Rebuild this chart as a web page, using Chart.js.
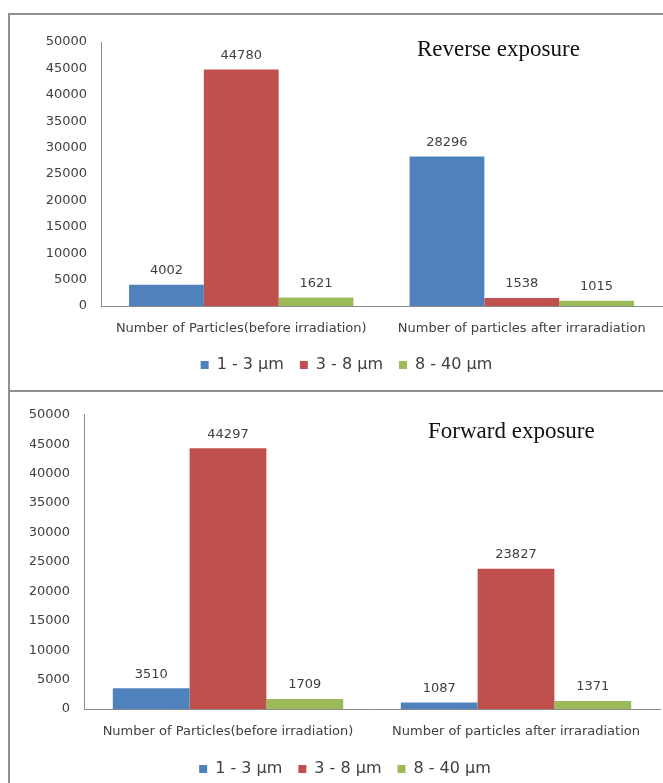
<!DOCTYPE html>
<html>
<head>
<meta charset="utf-8">
<script src="https://cdn.jsdelivr.net/npm/chart.js@4.4.1/dist/chart.umd.min.js"></script>
<style>
    html, body { margin: 0; padding: 0; background: #fff; overflow: hidden; }
    body { width: 663px; height: 783px; position: relative; }
    .frame { position: absolute; border-left: 2px solid #8f8f8f; border-top: 2px solid #8f8f8f; }
    #topFrame { left: 8px; top: 13px; width: 700px; height: 378px; }
    #bottomFrame { left: 8px; top: 390px; width: 700px; height: 400px; }
    .box { position: absolute; }
    #topBox { left: 11px; top: 16px; width: 652px; height: 376px; }
    #bottomBox { left: 10px; top: 393px; width: 653px; height: 394px; }
</style>
</head>
<body>
<div class="frame" id="topFrame"></div>
<div class="frame" id="bottomFrame"></div>
<div class="box" id="topBox"><canvas id="reverseChart"></canvas></div>
<div class="box" id="bottomBox"><canvas id="forwardChart"></canvas></div>

<script>
// particle counts per size band, before / after irradiation
const categories = ['Number of Particles(before irradiation)', 'Number of particles after irraradiation'];
const sizeBands = ['1 - 3 µm', '3 - 8 µm', '8 - 40 µm'];
const bandColors = ['#4f81bd', '#c0504d', '#9bbb59'];

const reverseSmall = [4002, 28296];
const reverseMedium = [44780, 1538];
const reverseLarge = [1621, 1015];

const forwardSmall = [3510, 1087];
const forwardMedium = [44297, 23827];
const forwardLarge = [1709, 1371];

const yMax = 50000;
const yStep = 5000;

const textColor = '#404040';
const axisColor = '#8c8c8c';

// numbers printed above each bar
const barValues = {
    id: 'barValues',
    afterDatasetsDraw(chart) {
        const ctx = chart.ctx;
        ctx.save();
        ctx.font = '13px "DejaVu Sans"';
        ctx.fillStyle = textColor;
        ctx.textAlign = 'center';
        ctx.textBaseline = 'middle';
        chart.data.datasets.forEach((ds, i) => {
            chart.getDatasetMeta(i).data.forEach((bar, j) => {
                ctx.fillText(String(ds.data[j]), bar.x, bar.y - 14);
            });
        });
        ctx.restore();
    }
};

// caption written inside the plot area
const caption = {
    id: 'caption',
    afterDraw(chart, args, opts) {
        const ctx = chart.ctx;
        ctx.save();
        ctx.font = '23px "Liberation Serif"';
        ctx.fillStyle = '#111';
        ctx.textBaseline = 'middle';
        ctx.fillText(opts.text, opts.x, opts.y);
        ctx.restore();
    }
};

function makeChart(id, series, text, box) {
    const datasets = series.map((values, i) => ({
        label: sizeBands[i],
        data: values,
        backgroundColor: bandColors[i],
        borderWidth: 0,
        barPercentage: 1.0,
        categoryPercentage: 0.8
    }));

    return new Chart(document.getElementById(id), {
        type: 'bar',
        data: { labels: categories, datasets: datasets },
        plugins: [barValues, caption],
        options: {
            responsive: true,
            maintainAspectRatio: false,
            animation: false,
            layout: {
                padding: { left: box.padL, right: box.padR, top: box.padT, bottom: box.padB }
            },
            plugins: {
                legend: {
                    position: 'bottom',
                    labels: {
                        boxWidth: 8,
                        boxHeight: 8,
                        padding: 16,
                        color: textColor,
                        font: { family: 'DejaVu Sans', size: 16 }
                    }
                },
                tooltip: { enabled: false },
                caption: { text: text, x: box.capX, y: box.capY }
            },
            scales: {
                x: {
                    grid: { display: false, drawTicks: false },
                    border: { display: true, color: axisColor, width: 1 },
                    ticks: {
                        color: textColor,
                        padding: 15,
                        maxRotation: 0,
                        font: { family: 'DejaVu Sans', size: 13 }
                    },
                    afterFit(scale) { scale.height = box.xH; }
                },
                y: {
                    min: 0,
                    max: yMax,
                    grid: { display: false, drawTicks: false },
                    border: { display: true, color: axisColor, width: 1 },
                    ticks: {
                        stepSize: yStep,
                        color: textColor,
                        padding: 14,
                        font: { family: 'DejaVu Sans', size: 13 },
                        callback: v => String(v)
                    },
                    afterFit(scale) { scale.width = box.yW; }
                }
            }
        }
    });
}

makeChart('reverseChart', [reverseSmall, reverseMedium, reverseLarge], 'Reverse exposure',
    { padL: 20, padR: 1, padT: 26, padB: 9, xH: 35, yW: 70, capX: 406, capY: 34 });

makeChart('forwardChart', [forwardSmall, forwardMedium, forwardLarge], 'Forward exposure',
    { padL: 20, padR: 3, padT: 14, padB: 0, xH: 36, yW: 54, capX: 418, capY: 39 });
</script>
</body>
</html>
